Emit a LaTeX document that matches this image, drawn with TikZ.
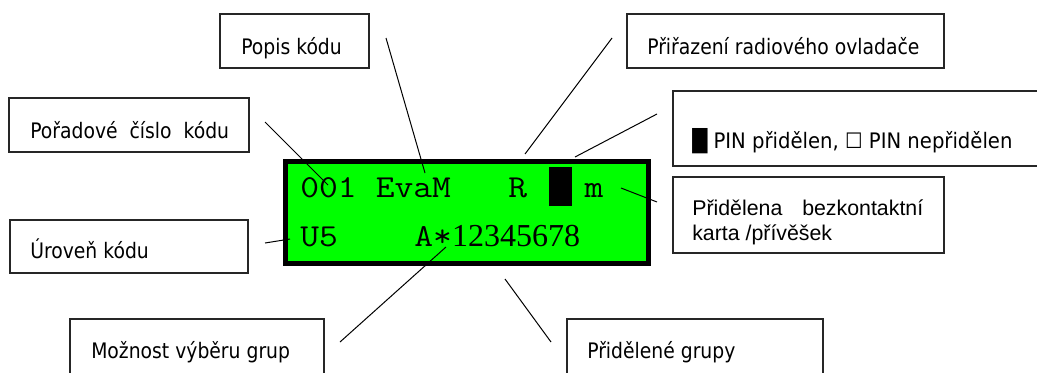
\documentclass[tikz,border=0pt]{standalone}
\usepackage{fontspec}
\setmainfont{DejaVu Sans}[FakeStretch=0.88]
\newfontfamily\tahw{DejaVu Sans}[FakeStretch=0.92]
\newfontfamily\arialf{Liberation Sans}
\newfontfamily\courf{Latin Modern Mono}[FakeStretch=1.14]
\newfontfamily\timesf{Liberation Serif}
\newcommand\lcdsp{\hspace*{14.364pt}}
\begin{document}
\begin{tikzpicture}[x=0.75pt,y=-0.75pt,
  box/.style={draw=black!85, line width=0.8pt, rectangle, inner sep=0pt, outer sep=0pt, anchor=north west},
  lbl/.style={anchor=base west, inner sep=0pt, font=\fontsize{16pt}{19pt}\selectfont},
  lcdtxt/.style={anchor=base west, inner sep=0pt, font=\fontsize{24pt}{28pt}\courf},
  conn/.style={draw=black, line width=0.75pt}]
\useasboundingbox (0,0) rectangle (1037,372);
\clip (0,0) rectangle (1037,372);

% LCD display
\node[box, draw=black, line width=3.75pt, fill={rgb,255:red,0;green,255;blue,0},
  minimum width=272.25pt, minimum height=76.5pt] (lcd) at (285.5,161.5) {};
\node[lcdtxt] (row1) at (300,197) {001\lcdsp EvaM\lcdsp\lcdsp\lcdsp R\lcdsp\lcdsp\lcdsp m};
\node[lcdtxt] (row2) at (300,246) {U5\lcdsp\lcdsp\lcdsp\lcdsp A*{\fontsize{24pt}{28pt}\timesf 12345678}};
\node[fill=black, inner sep=0pt, outer sep=0pt, anchor=north west,
  minimum width=17.25pt, minimum height=29.25pt] (pinblk) at (549,167) {};

% label boxes
\node[box, minimum width=111.75pt, minimum height=40.5pt] (bpopis) at (220,14) {};
\node[lbl] (tpopis) at (241,54) {Popis kódu};

\node[box, minimum width=180pt, minimum height=40.5pt] (bporad) at (9,98) {};
\node[lbl] (tporad) at (30,138) {Pořadové\ \ číslo\ \ kódu};

\node[box, minimum width=237.75pt, minimum height=40.5pt] (bradio) at (627,14) {};
\node[lbl] (tradio) at (647,54) {Přiřazení radiového ovladače};

\node[box, minimum width=279pt, minimum height=56.25pt] (bpin) at (673,91) {};
\node[lbl, font=\fontsize{16pt}{19pt}\tahw] (tpin) at (692,148) {█ PIN přidělen, ☐ PIN nepřidělen};

\node[box, minimum width=203.25pt, minimum height=57pt] (bkarta) at (673,177) {};
\node[lbl, font=\fontsize{16pt}{18.75pt}\arialf, align=left] (tkarta) at (692,240)
  {\makebox[173.25pt][s]{Přidělena bezkontaktní}\\karta /přívěšek};

\node[box, minimum width=178.5pt, minimum height=39.75pt] (burov) at (10,220) {};
\node[lbl] (turov) at (30,258) {Úroveň kódu};

\node[box, minimum width=190.5pt, minimum height=49.5pt] (bmozn) at (70,319) {};
\node[lbl] (tmozn) at (91,358) {Možnost výběru grup};

\node[box, minimum width=192pt, minimum height=49.5pt] (bgrup) at (567,319) {};
\node[lbl] (tgrup) at (587,358) {Přidělené grupy};

% connector end points
\coordinate (popisA) at (386,38);   \coordinate (popisB) at (425,173);
\coordinate (poradA) at (265,122);  \coordinate (poradB) at (328,185);
\coordinate (radioA) at (612,38);   \coordinate (radioB) at (525,154);
\coordinate (pinA)   at (657,114);  \coordinate (pinB)   at (575,157);
\coordinate (kartaA) at (657,202);  \coordinate (kartaB) at (621,188);
\coordinate (urovA)  at (265,243);  \coordinate (urovB)  at (290,239);
\coordinate (moznA)  at (340,342);  \coordinate (moznB)  at (446,247);
\coordinate (grupA)  at (551,342);  \coordinate (grupB)  at (505,279);

\draw[conn] (popisA) -- (popisB);
\draw[conn] (poradA) -- (poradB);
\draw[conn] (radioA) -- (radioB);
\draw[conn] (pinA) -- (pinB);
\draw[conn] (kartaA) -- (kartaB);
\draw[conn] (urovA) -- (urovB);
\draw[conn] (moznA) -- (moznB);
\draw[conn] (grupA) -- (grupB);
\end{tikzpicture}
\end{document}
